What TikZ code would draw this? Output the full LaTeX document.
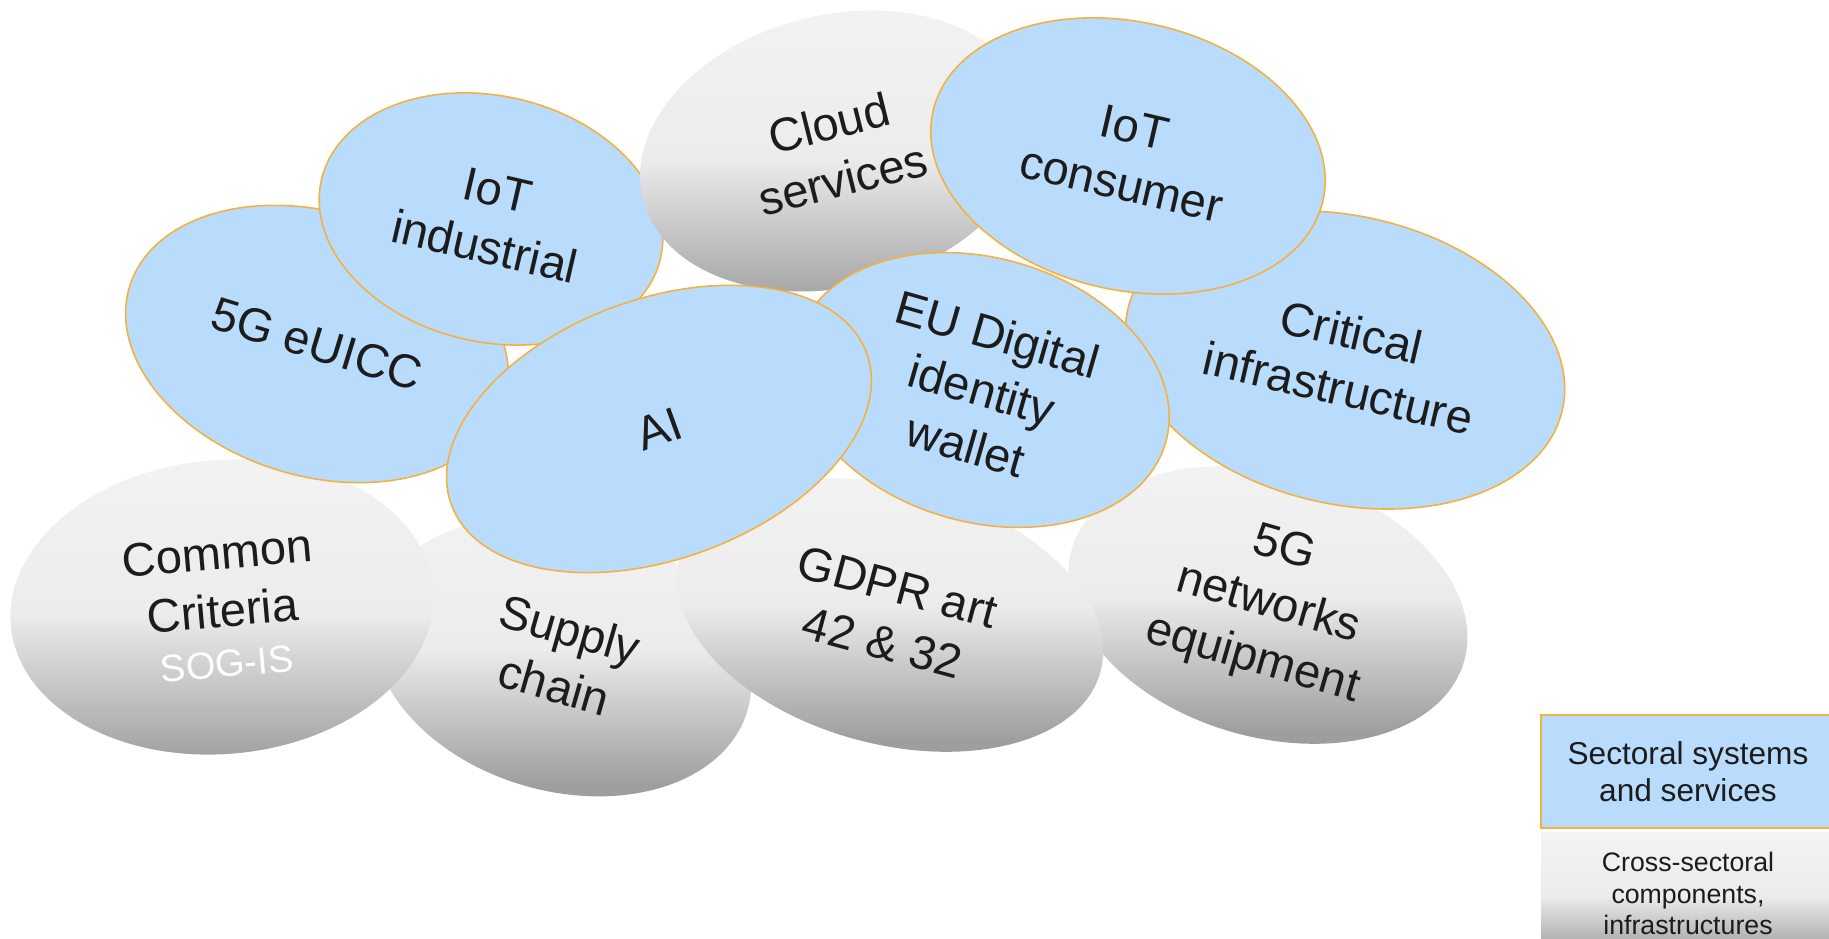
\documentclass[tikz,border=0pt]{standalone}
\usepackage{fontspec}
\setmainfont{Liberation Sans}
\usetikzlibrary{shapes.geometric}
\definecolor{secblue}{RGB}{186,220,252}
\definecolor{secedge}{RGB}{244,177,63}
\definecolor{gdark}{RGB}{158,158,158}
\definecolor{gmid}{RGB}{236,236,236}
\definecolor{gtop}{RGB}{243,243,243}
\definecolor{ink}{RGB}{28,28,28}
\pgfdeclareverticalshading{blobgray}{100bp}{color(0bp)=(gdark); color(25bp)=(gdark); color(49bp)=(gmid); color(75bp)=(gtop); color(100bp)=(gtop)}
\tikzset{
  blob/.style={ellipse, inner sep=0pt, outer sep=0pt, align=center, text=ink, font=\fontsize{13.4}{16.4}\selectfont},
  sector/.style={blob, fill=secblue, draw=secedge, line width=0.45pt},
  crosssec/.style={blob, shading=blobgray},
  legendbox/.style={rectangle, inner sep=0pt, outer sep=0pt, align=center, text=ink, minimum width=2.94cm},
}

\begin{document}
\begin{tikzpicture}
			%%%%% START %%%%%
			\useasboundingbox (0,0) rectangle (18.29,9.39);
			
			% cross-sectoral components
			\node[crosssec, rotate=-16, minimum width=3.86cm, minimum height=2.68cm] (supply) at (5.62,2.82) {Supply\\chain};
			\node[crosssec, rotate=5, minimum width=4.24cm, minimum height=2.94cm] (cc) at (2.22,3.32) {Common\\Criteria\\[-2.1pt]{\color{white}\fontsize{10.8}{12}\selectfont SOG-IS}};
			\node[crosssec, rotate=-16, minimum width=4.08cm, minimum height=2.64cm] (netw) at (12.68,3.34) {5G\\networks\\equipment};
			\node[crosssec, rotate=-15, minimum width=4.36cm, minimum height=2.58cm] (gdpr) at (8.90,3.24) {GDPR art\\42 \& 32};
			
			% sectoral systems
			\node[sector, rotate=-17, minimum width=3.92cm, minimum height=2.64cm] (euicc) at (3.17,5.95) {5G eUICC};
			\node[sector, rotate=-13, minimum width=3.48cm, minimum height=2.46cm] (iotind) at (4.91,7.20) {IoT\\industrial};
			\node[crosssec, rotate=14, minimum width=3.98cm, minimum height=2.72cm] (cloud) at (8.36,7.88) {Cloud\\services};
			\node[sector, rotate=-13, minimum width=4.46cm, minimum height=2.88cm] (crit) at (13.45,5.79) {Critical\\infrastructure};
			\node[sector, rotate=-13, minimum width=4.00cm, minimum height=2.68cm] (iotcons) at (11.28,7.83) {IoT\\consumer};
			\node[sector, rotate=-16, minimum width=3.82cm, minimum height=2.64cm] (wallet) at (9.82,5.49) {EU Digital\\identity\\wallet};
			\node[sector, rotate=20, minimum width=4.42cm, minimum height=2.60cm] (ai) at (6.59,5.10) {AI};
			
			% legend
			\node[legendbox, fill=secblue, draw=secedge, line width=0.6pt, minimum height=1.13cm, font=\fontsize{9}{10.5}\selectfont] (legsec) at (16.88,1.675) {Sectoral systems\\and services};
			\node[legendbox, shading=blobgray, minimum height=1.21cm, font=\fontsize{7.6}{9}\selectfont] (legcross) at (16.88,0.455) {Cross-sectoral\\components,\\infrastructures};
			
			%%%%% END %%%%%
\end{tikzpicture}
\end{document}
